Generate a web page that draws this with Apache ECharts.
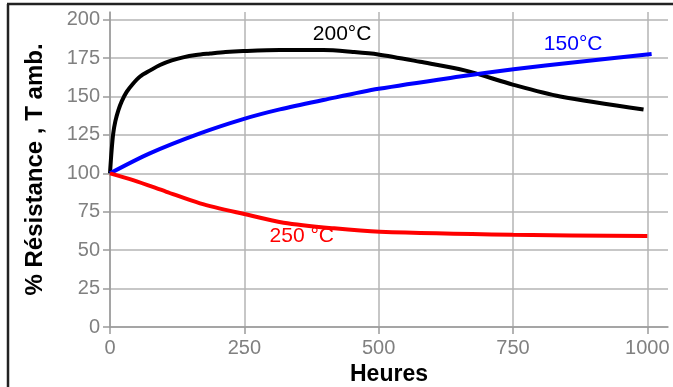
<!DOCTYPE html>
<html>
<head>
<meta charset="utf-8">
<script src="https://cdn.jsdelivr.net/npm/echarts@6/dist/echarts.min.js"></script>
<style>html,body{margin:0;padding:0;background:#fff}#c{width:673px;height:387px}</style>
</head>
<body>
<div id="c"></div>
<script>
// Tick labels
const xTicks = [0, 250, 500, 750, 1000];
const yTicks = [0, 25, 50, 75, 100, 125, 150, 175, 200];

// Series: [hours, % resistance]
const seriesNames = ['200°C', '150°C', '250 °C'];
const data200 = [[0,100],[3,115],[6,126],[10,134],[15.5,141],[22,147],[31,153],[42,158],[56,163],[75,167],[93,170.5],[115,173.5],[136,175.5],[160,177],[186,178],[215,179],[248,179.6],[316,180.2],[397,180.2],[452,179],[499,177.4],[577,172.6],[660,167],[751,157.6],[838,150],[993,141.6]];
const data150 = [[0,100],[74,113],[167.5,126],[248,135.3],[316,141.6],[397,147.7],[500,155],[651,163],[751,167.7],[870,172.5],[1008,177.6]];
const data250 = [[0,100],[43,95.6],[105,88],[167.5,80.5],[250,73.5],[323,67.9],[417,64.2],[502,62],[750,60],[1000,59.2]];

const FONT = '"Liberation Sans", Arial, sans-serif';
const chart = echarts.init(document.getElementById('c'), null, {renderer: 'canvas'});

function lineSeries(name, data, color, labelCoord) {
  return {
    name: name, type: 'line', data: data, showSymbol: false, symbol: 'none',
    smooth: 0.3, clip: false,
    lineStyle: {color: color, width: 4},
    markPoint: {
      symbol: 'circle', symbolSize: 0, silent: true,
      label: {show: true, position: 'inside', formatter: name, color: color, fontSize: 21, fontFamily: FONT},
      data: [{coord: labelCoord, value: 0}]
    }
  };
}

chart.setOption({
  animation: false,
  backgroundColor: '#fff',
  grid: {left: 110, right: 5, top: 12, bottom: 60, containLabel: false, outerBoundsMode: 'none'},
  xAxis: {
    type: 'value', min: 0, max: 1038.5, interval: 250,
    name: 'Heures', nameLocation: 'middle', nameGap: 28,
    nameTextStyle: {fontFamily: FONT, fontSize: 23, fontWeight: 'bold', color: '#000'},
    axisLine: {show: true, onZero: false, lineStyle: {color: '#9a9a9a', width: 1.5}},
    axisTick: {show: true, inside: false, length: 7, customValues: xTicks, lineStyle: {color: '#9a9a9a', width: 1.5}},
    axisLabel: {customValues: xTicks, margin: 11, color: '#808080', fontSize: 20, fontFamily: FONT, formatter: v => String(v)},
    splitLine: {show: true, lineStyle: {color: '#b4b4b4', width: 1.5}}
  },
  yAxis: {
    type: 'value', min: 0, max: 205, interval: 25,
    name: '% Résistance , T amb.', nameLocation: 'middle', nameGap: 63, nameRotate: 90,
    nameTextStyle: {fontFamily: FONT, fontSize: 24, fontWeight: 'bold', color: '#000'},
    axisLine: {show: true, lineStyle: {color: '#9a9a9a', width: 1.5}},
    axisTick: {show: true, inside: false, length: 7, customValues: yTicks, lineStyle: {color: '#9a9a9a', width: 1.5}},
    axisLabel: {customValues: yTicks, margin: 10, color: '#808080', fontSize: 20, fontFamily: FONT, formatter: v => String(v)},
    splitLine: {show: true, lineStyle: {color: '#b4b4b4', width: 1.5}}
  },
  series: [
    lineSeries(seriesNames[0], data200, '#000000', [432, 190.6]),
    lineSeries(seriesNames[1], data150, '#0000ff', [862, 184]),
    lineSeries(seriesNames[2], data250, '#ff0000', [357, 59.2])
  ],
  graphic: [
    {type: 'line', shape: {x1: 8, y1: 4, x2: 8, y2: 387}, style: {stroke: '#222', lineWidth: 2.5}, silent: true},
    {type: 'line', shape: {x1: 7, y1: 4, x2: 673, y2: 4}, style: {stroke: '#222', lineWidth: 2.5}, silent: true}
  ]
});
</script>
</body>
</html>
